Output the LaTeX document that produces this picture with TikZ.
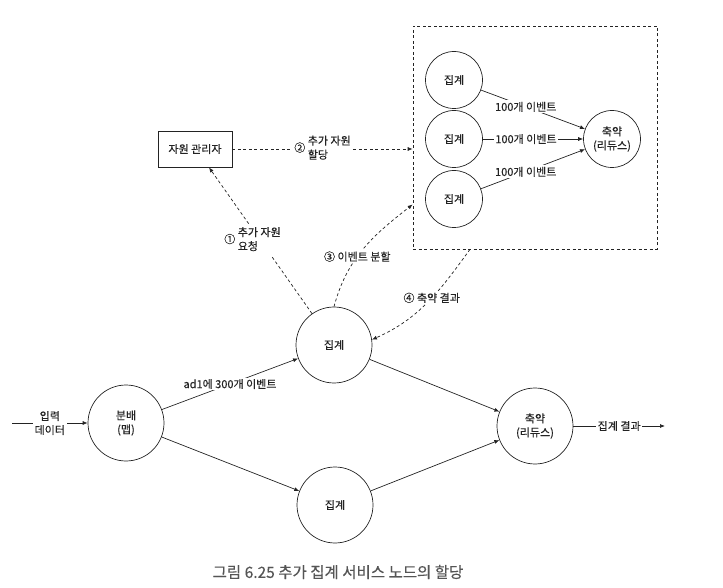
\documentclass[tikz,border=0pt]{standalone}
\usepackage{fontspec}
\setmainfont{Noto Sans CJK KR}[FakeBold=0.3]
\usetikzlibrary{arrows.meta}
\definecolor{ink}{RGB}{35, 35, 35}
\definecolor{capgray}{RGB}{85, 85, 85}

\begin{document}
\begin{tikzpicture}[
    x=1pt, y=1pt, >={Latex[length=5pt,width=4pt]},
    agg/.style={draw=ink, circle, line width=0.7pt, minimum size=76pt, inner sep=0pt, align=center, text=ink, font=\fontsize{11}{14}\selectfont},
    sub/.style={agg, minimum size=57pt},
    mgr/.style={draw=ink, line width=0.8pt, minimum width=74pt, minimum height=36pt, text=ink, font=\fontsize{11}{14}\selectfont},
    lbl/.style={fill=white, inner sep=1.5pt, align=center, text=ink, font=\fontsize{11}{14}\selectfont},
    flow/.style={->, draw=ink, line width=0.7pt},
    dflow/.style={->, draw=ink, line width=0.7pt, dash pattern=on 3pt off 2.5pt},
]
    \useasboundingbox (0,0) rectangle (723,587);

    % main pipeline
    \node[agg] (map) at (126,164) {분배\\(맵)};
    \node[agg] (agg1) at (334,242) {집계};
    \node[agg] (agg2) at (335,82) {집계};
    \node[agg] (reduce) at (535,161) {축약\\(리듀스)};
    \coordinate (in) at (12,164);
    \coordinate (out) at (665,161);

    \draw[flow] (in) -- node[lbl] {입력\\데이터} (map);
    \draw[flow] (map) -- node[lbl] {ad1에 300개 이벤트} (agg1);
    \draw[flow] (map) -- (agg2);
    \draw[flow] (agg1) -- (reduce);
    \draw[flow] (agg2) -- (reduce);
    \draw[flow] (reduce) -- node[lbl] {집계 결과} (out);

    % extra nodes
    \node[mgr] (rm) at (195,438) {자원 관리자};
    \node[draw=ink, line width=0.7pt, dash pattern=on 3pt off 2.5pt, minimum width=244pt, minimum height=223pt] (pool) at (535,449.5) {};
    \node[sub] (sub1) at (454,507) {집계};
    \node[sub] (sub2) at (454,448) {집계};
    \node[sub] (sub3) at (454,388) {집계};
    \node[sub] (subred) at (612,448) {축약\\(리듀스)};

    \draw[flow] (sub1) -- node[lbl, pos=0.43] {100개 이벤트} (subred);
    \draw[flow] (sub2) -- node[lbl, pos=0.43] {100개 이벤트} (subred);
    \draw[flow] (sub3) -- node[lbl, pos=0.43] {100개 이벤트} (subred);

    % resource steps
    \draw[dflow] (agg1.125) -- node[lbl, xshift=-8pt] {① \begin{tabular}[c]{@{}l@{}}추가 자원\\요청\end{tabular}} ([xshift=14pt]rm.south);
    \draw[dflow] (rm.east) -- node[lbl] {② \begin{tabular}[c]{@{}l@{}}추가 자원\\할당\end{tabular}} (rm.east -| pool.west);
    \draw[dflow] (agg1.north) to[out=75, in=218] node[lbl, pos=0.42] {③ 이벤트 분할} ([yshift=-67pt]pool.west);
    \draw[dflow] ([xshift=-65pt]pool.south) to[out=234, in=24] node[lbl, pos=0.45] {④ 축약 결과} (agg1.8);

    \node[text=capgray, font=\fontsize{15.5}{18}\selectfont] (caption) at (338,15) {그림 6.25 추가 집계 서비스 노드의 할당};
\end{tikzpicture}
\end{document}
